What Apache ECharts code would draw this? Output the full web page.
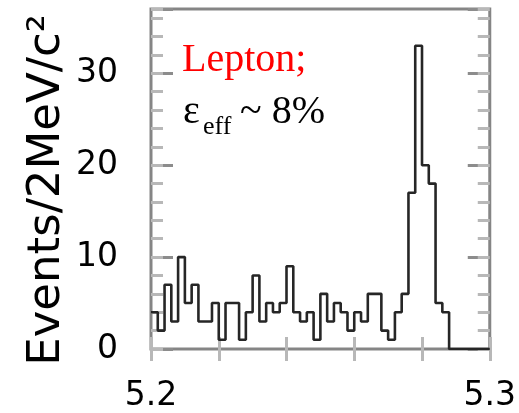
<!DOCTYPE html>
<html>
<head>
<meta charset="utf-8">
<script src="https://cdn.jsdelivr.net/npm/echarts@6/dist/echarts.min.js"></script>
<style>
  html, body { margin: 0; padding: 0; background: #fff; }
  #chart { width: 519px; height: 413px; }
</style>
</head>
<body>
<div id="chart"></div>
<script>
// Mass window and binning (2 MeV/c^2 bins)
const massLow = 5.2;
const massHigh = 5.3;
const binWidth = 0.002;

// Events per bin, from the low edge of the window upwards
const counts = [
  4, 2, 7, 3, 10, 5, 7, 3, 3, 5,
  1, 5, 5, 1, 4, 8, 3, 5, 4, 5,
  9, 4, 3, 4, 1, 6, 3, 5, 4, 2,
  4, 3, 6, 6, 2, 1, 4, 6, 17, 33,
  20, 18, 5, 4, 0, 0, 0, 0, 0, 0
];

// Axis labelling
const yMax = 37;
const yLabelValues = [0, 10, 20, 30];
const xLabelValues = [5.2, 5.3];
const yTitle = 'Events/2MeV/c\u00B2';
const modeLabel = 'Lepton;';
const effSymbol = '\u03B5';
const effSub = 'eff';
const effValue = '~ 8%';

// Step-line points at each bin's low edge, closed at the window's upper edge
const stepPoints = counts.map((c, i) => [+(massLow + i * binWidth).toFixed(4), c]);
stepPoints.push([massHigh, counts[counts.length - 1]]);

const near = (v, list) => list.find(t => Math.abs(v - t) < 1e-6);

const tickFont = { fontFamily: 'DejaVu Sans', fontSize: 33, color: '#000' };
const majorTick = { show: true, inside: true, length: 22, lineStyle: { color: '#8c8c8c', width: 3 } };
const minorTick = { show: true, inside: true, length: 12, lineStyle: { color: '#b8b8b8', width: 3 } };

function yAx(position, tick, labels) {
  return {
    type: 'value', position, min: 0, max: yMax,
    interval: tick === majorTick ? 10 : 2,
    axisLine: { show: false },
    axisTick: tick,
    splitLine: { show: false },
    axisLabel: labels ? Object.assign({
      show: true, margin: 33,
      formatter: v => { const t = near(v, yLabelValues); return t === undefined ? '' : String(t); }
    }, tickFont) : { show: false }
  };
}

function xAx(position, labels) {
  return {
    type: 'value', position, min: massLow, max: massHigh, interval: 0.02,
    axisLine: { show: false },
    axisTick: minorTick,
    splitLine: { show: false },
    axisLabel: labels ? Object.assign({
      show: true, margin: 31, interval: 0, showMinLabel: true, showMaxLabel: true,
      formatter: v => { const t = near(v, xLabelValues); return t === undefined ? '' : t.toFixed(1); }
    }, tickFont) : { show: false }
  };
}

const chart = echarts.init(document.getElementById('chart'), null, { renderer: 'canvas' });
chart.setOption({
  animation: false,
  backgroundColor: '#fff',
  grid: {
    left: 151, right: 27, top: 9, bottom: 62,
    show: true, borderColor: '#858585', borderWidth: 3, backgroundColor: 'transparent'
  },
  xAxis: [xAx('bottom', true), xAx('top', false)],
  yAxis: [
    yAx('left', majorTick, true),
    yAx('left', minorTick, false),
    yAx('right', majorTick, false),
    yAx('right', minorTick, false)
  ],
  series: [{
    type: 'line',
    xAxisIndex: 0,
    yAxisIndex: 0,
    step: 'end',
    data: stepPoints,
    symbol: 'none',
    lineStyle: { color: '#262626', width: 2.6 },
    z: 3
  }],
  graphic: [
    {
      type: 'text', x: 47, y: 190, rotation: Math.PI / 2,
      style: { text: yTitle, font: '45px "DejaVu Sans"', fill: '#000', align: 'center', verticalAlign: 'middle' }
    },
    {
      type: 'text', x: 182, y: 60,
      style: { text: modeLabel, font: '40px "Liberation Serif"', fill: '#ff0000', align: 'left', verticalAlign: 'middle' }
    },
    {
      type: 'text', x: 183, y: 112,
      style: { text: effSymbol, font: '40px "Liberation Serif"', fill: '#000', align: 'left', verticalAlign: 'middle' }
    },
    {
      type: 'text', x: 203, y: 127,
      style: { text: effSub, font: '26px "Liberation Serif"', fill: '#000', align: 'left', verticalAlign: 'middle' }
    },
    {
      type: 'text', x: 240, y: 112,
      style: { text: effValue, font: '40px "Liberation Serif"', fill: '#000', align: 'left', verticalAlign: 'middle' }
    }
  ]
});
</script>
</body>
</html>
